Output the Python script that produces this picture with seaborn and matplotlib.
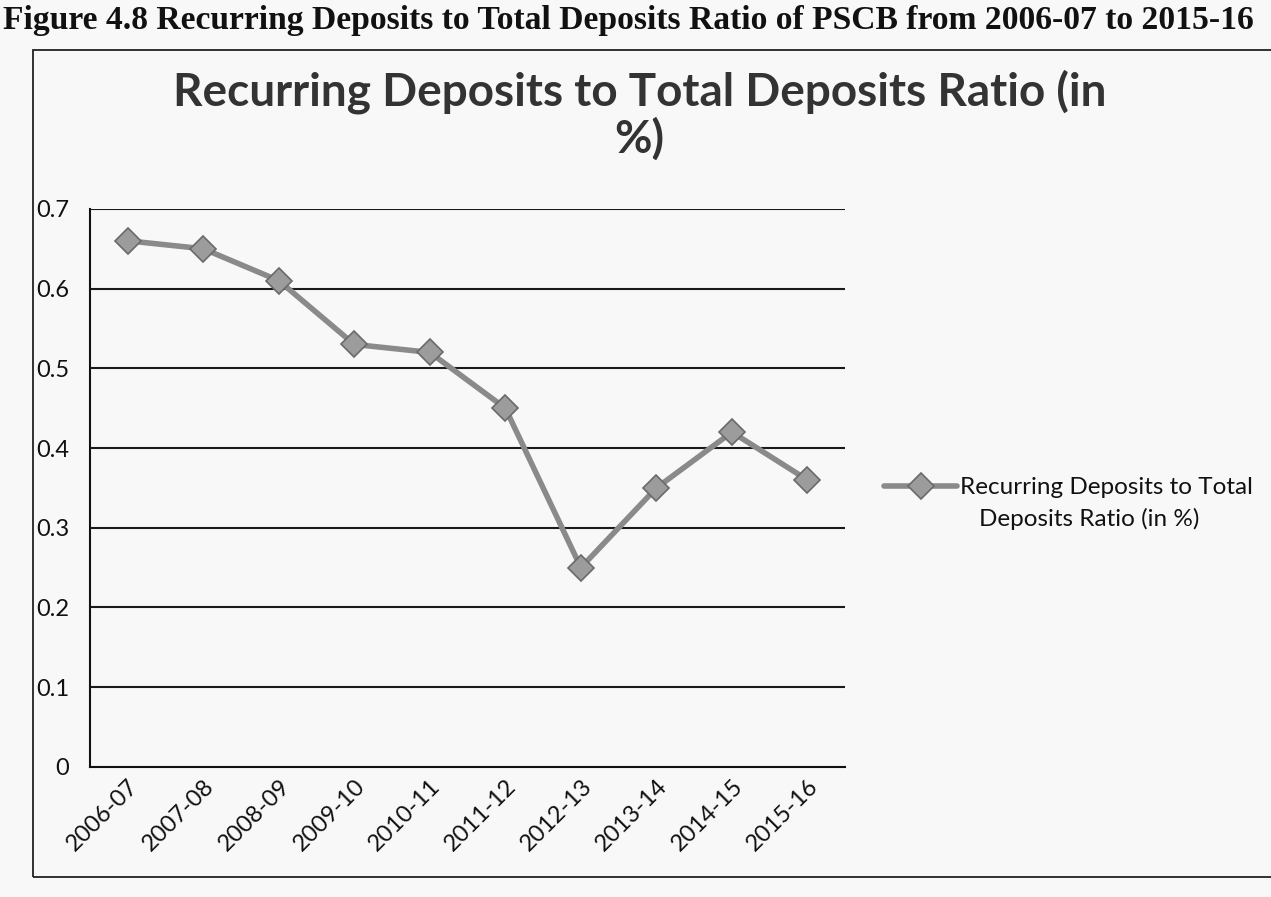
import matplotlib
matplotlib.use("Agg")
import matplotlib.pyplot as plt
from matplotlib.patches import Rectangle
import numpy as np
import pandas as pd
import seaborn as sns

# Recurring deposits as a share of total deposits, by financial year
years = ["2006-07", "2007-08", "2008-09", "2009-10", "2010-11",
         "2011-12", "2012-13", "2013-14", "2014-15", "2015-16"]
ratio = [0.66, 0.65, 0.61, 0.53, 0.52, 0.45, 0.25, 0.35, 0.42, 0.36]
y_ticks = [0, 0.1, 0.2, 0.3, 0.4, 0.5, 0.6, 0.7]
series_line1 = "Recurring Deposits to Total"
series_line2 = "Deposits Ratio (in %)"

df = pd.DataFrame({"year": years, "ratio": ratio})

sns.set_theme(style="white")
plt.rcParams["font.family"] = ["Lato", "DejaVu Sans"]

fig = plt.figure(figsize=(12.71, 8.97), dpi=100)
fig.patch.set_facecolor("#f8f8f8")

# Caption above the chart frame
fig.text(0.002, 0.968, "Figure 4.8 Recurring Deposits to Total Deposits Ratio of PSCB from 2006-07 to 2015-16",
         family="Liberation Serif", fontweight="bold", fontsize=24.2, ha="left", va="baseline",
         color="#111111")

# Chart frame
fig.add_artist(Rectangle((0.026, 0.022), 1.0, 0.922, transform=fig.transFigure,
                         fill=False, edgecolor="#222222", linewidth=1.3))

# Chart title
fig.text(0.503, 0.882, "Recurring Deposits to Total Deposits Ratio (in", ha="center", va="baseline",
         fontsize=33, fontweight="bold", color="#333333")
fig.text(0.503, 0.830, "%)", ha="center", va="baseline",
         fontsize=33, fontweight="bold", color="#333333")

ax = fig.add_axes([0.0708, 0.1450, 0.5942, 0.6221])
ax.set_facecolor("none")

for v in y_ticks[1:]:
    ax.axhline(v, color="#1a1a1a", linewidth=1.5, zorder=1)

sns.lineplot(data=df, x="year", y="ratio", ax=ax, color="#8a8a8a", linewidth=4,
             marker="D", markersize=13, markerfacecolor="#9c9c9c",
             markeredgecolor="#6a6a6a", markeredgewidth=1.2,
             label=series_line1, zorder=3, sort=False)

ax.set_xlim(-0.5, len(years) - 0.5)
ax.set_ylim(0, 0.7)
ax.set_yticks(y_ticks)
ax.set_yticklabels(["0", "0.1", "0.2", "0.3", "0.4", "0.5", "0.6", "0.7"])
ax.set_xticks(range(len(years)))
ax.set_xticklabels(years, rotation=45, ha="right", rotation_mode="anchor")
ax.set_xticks(np.arange(-0.5, len(years), 1.0), minor=True)
ax.tick_params(axis="x", which="major", length=0, labelsize=17, pad=6, colors="#111111")
ax.tick_params(axis="x", which="minor", length=7, width=1.3, color="#111111", direction="out")
ax.tick_params(axis="y", which="major", length=7, width=1.3, color="#111111",
               direction="out", labelsize=17, pad=8, labelcolor="#111111")
ax.set_xlabel("")
ax.set_ylabel("")

for side in ["top", "right"]:
    ax.spines[side].set_visible(False)
for side in ["left", "bottom"]:
    ax.spines[side].set_color("#111111")
    ax.spines[side].set_linewidth(1.5)

handles, labels = ax.get_legend_handles_labels()
ax.get_legend().remove()
fig.legend(handles, labels, loc="center left", bbox_to_anchor=(0.688, 0.456),
           frameon=False, fontsize=17.5, handlelength=3.0, handletextpad=0.1,
           labelcolor="#111111", borderaxespad=0)
fig.text(0.770, 0.414, series_line2, fontsize=17.5, color="#111111",
         ha="left", va="baseline")

fig.savefig("out.png", dpi=100, facecolor=fig.get_facecolor())
